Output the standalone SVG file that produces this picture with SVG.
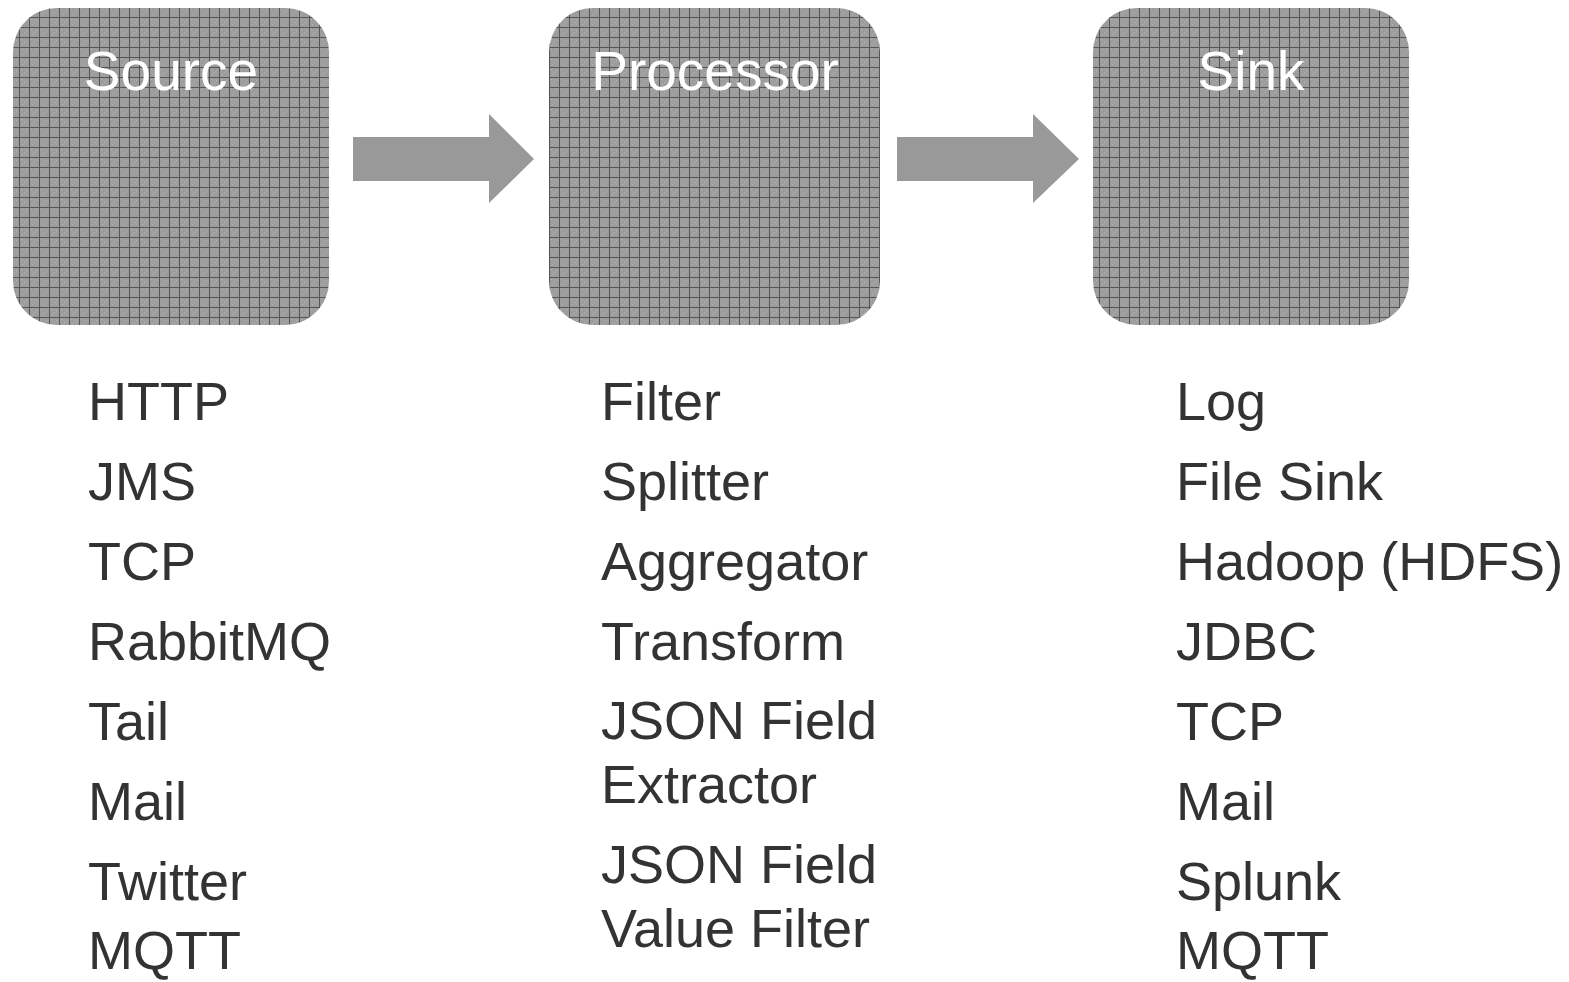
<svg xmlns="http://www.w3.org/2000/svg" width="1569" height="982" viewBox="0 0 1569 982">
<style>
.box{fill:url(#grid)}
.title{font-family:"Liberation Sans",Arial,sans-serif;font-size:55px;fill:#ffffff;text-anchor:middle}
.item{font-family:"Liberation Sans",Arial,sans-serif;font-size:54px;fill:#333333}
.arrow{fill:#999999}
</style>
<defs>
<pattern id="grid" patternUnits="userSpaceOnUse" x="9" y="7" width="10" height="10">
<rect width="10" height="10" fill="#9d9d9d"/>
<rect x="2" y="2" width="1" height="1" fill="#b3b3b3"/>
<rect x="5" y="5" width="1" height="1" fill="#b3b3b3"/>
<rect x="7" y="3" width="1" height="1" fill="#b3b3b3"/>
<rect x="3" y="7" width="1" height="1" fill="#b3b3b3"/>
<rect x="0" y="0" width="10" height="1" fill="#555555"/>
<rect x="0" y="0" width="1" height="10" fill="#555555"/>
</pattern>
</defs>
<g id="source">
<rect class="box" x="13" y="8" width="316" height="317" rx="44" ry="44"/>
<text class="title" x="171" y="90">Source</text>
<text class="item" x="88" y="420">HTTP</text>
<text class="item" x="88" y="500">JMS</text>
<text class="item" x="88" y="580">TCP</text>
<text class="item" x="88" y="660">RabbitMQ</text>
<text class="item" x="88" y="740">Tail</text>
<text class="item" x="88" y="820">Mail</text>
<text class="item" x="88" y="900">Twitter</text>
<text class="item" x="88" y="969">MQTT</text>
</g>
<g id="processor">
<rect class="box" x="549" y="8" width="331" height="317" rx="44" ry="44"/>
<text class="title" x="715" y="90">Processor</text>
<text class="item" x="601" y="420">Filter</text>
<text class="item" x="601" y="500">Splitter</text>
<text class="item" x="601" y="580">Aggregator</text>
<text class="item" x="601" y="660">Transform</text>
<text class="item" x="601" y="739">JSON Field</text>
<text class="item" x="601" y="803">Extractor</text>
<text class="item" x="601" y="883">JSON Field</text>
<text class="item" x="601" y="947">Value Filter</text>
</g>
<g id="sink">
<rect class="box" x="1093" y="8" width="316" height="317" rx="44" ry="44"/>
<text class="title" x="1251" y="90">Sink</text>
<text class="item" x="1176" y="420">Log</text>
<text class="item" x="1176" y="500">File Sink</text>
<text class="item" x="1176" y="580">Hadoop (HDFS)</text>
<text class="item" x="1176" y="660">JDBC</text>
<text class="item" x="1176" y="740">TCP</text>
<text class="item" x="1176" y="820">Mail</text>
<text class="item" x="1176" y="900">Splunk</text>
<text class="item" x="1176" y="969">MQTT</text>
</g>
<g id="connectors">
<polygon class="arrow" points="353,137 489,137 489,114 534,159 489,203 489,181 353,181"/>
<polygon class="arrow" points="897,137 1033,137 1033,114 1079,159 1033,203 1033,181 897,181"/>
</g>
</svg>
